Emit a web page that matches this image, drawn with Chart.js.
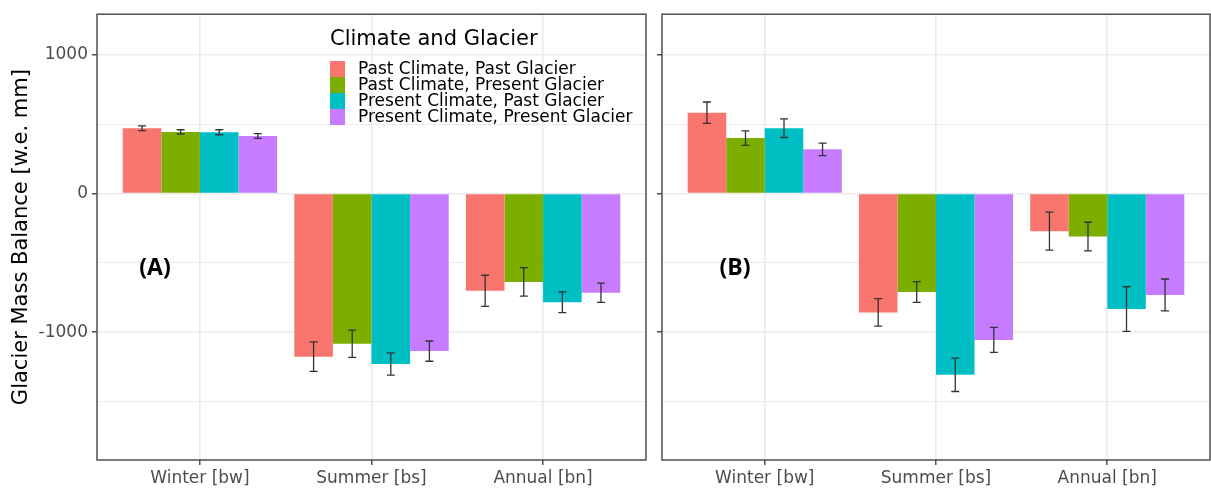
<!DOCTYPE html>
<html>
<head>
<meta charset="utf-8">
<script src="https://cdn.jsdelivr.net/npm/chart.js@4.4.0/dist/chart.umd.min.js"></script>
<style>
  body { margin: 0; background: #fff; }
  #wrap { position: relative; width: 1211px; height: 495px; }
  canvas { position: absolute; top: 0; }
  #chartA { left: 0; }
  #chartB { left: 655px; }
</style>
</head>
<body>
<div id="wrap">
  <canvas id="chartA" width="655" height="495"></canvas>
  <canvas id="chartB" width="556" height="495"></canvas>
</div>
<script>
// balance components along x
const categories = ["Winter [bw]", "Summer [bs]", "Annual [bn]"];
const seriesNames = [
  "Past Climate, Past Glacier",
  "Past Climate, Present Glacier",
  "Present Climate, Past Glacier",
  "Present Climate, Present Glacier",
];
const seriesColors = ["#F8766D", "#7CAE00", "#00BFC4", "#C77CFF"];

// panel (A) means [w.e. mm], order winter / summer / annual
const a_pastPast = [471, -1176, -701];
const a_pastPresent = [444, -1083, -637];
const a_presentPast = [442, -1229, -784];
const a_presentPresent = [415, -1136, -715];
// panel (A) error bar half lengths
const a_pastPast_err = [17, 106, 112];
const a_pastPresent_err = [16, 98, 103];
const a_presentPast_err = [18, 80, 75];
const a_presentPresent_err = [17, 73, 69];

// panel (B) means
const b_pastPast = [583, -857, -271];
const b_pastPresent = [400, -710, -310];
const b_presentPast = [471, -1307, -833];
const b_presentPresent = [319, -1055, -731];
// panel (B) error bar half lengths
const b_pastPast_err = [77, 99, 137];
const b_pastPresent_err = [52, 75, 103];
const b_presentPast_err = [67, 120, 161];
const b_presentPresent_err = [45, 90, 115];

// y axis
const yTicks = [-1500, -1000, -500, 0, 500, 1000];
const yLabelled = [-1000, 0, 1000];
const yMin = -1921;
const yMax = 1293;

const FONT = "'DejaVu Sans', sans-serif";

function makeDatasets(values, errs) {
  return seriesNames.map((name, i) => ({
    label: name,
    data: values[i].map((v, j) => ({ x: j + 1, y: v })),
    errors: errs[i],
    backgroundColor: seriesColors[i],
    borderWidth: 0,
    categoryPercentage: 0.9,
    barPercentage: 1.0,
  }));
}

// whiskers drawn on top of the bars
const errorBars = {
  id: "errorBars",
  afterDatasetsDraw(chart) {
    const ctx = chart.ctx;
    const y = chart.scales.y;
    ctx.save();
    ctx.strokeStyle = "#333";
    ctx.lineWidth = 1.3;
    chart.data.datasets.forEach((ds, i) => {
      const meta = chart.getDatasetMeta(i);
      meta.data.forEach((bar, j) => {
        const v = ds.data[j].y;
        const e = ds.errors[j];
        const top = y.getPixelForValue(v + e);
        const bot = y.getPixelForValue(v - e);
        const x = bar.x;
        ctx.beginPath();
        ctx.moveTo(x, top); ctx.lineTo(x, bot);
        ctx.moveTo(x - 4, top); ctx.lineTo(x + 4, top);
        ctx.moveTo(x - 4, bot); ctx.lineTo(x + 4, bot);
        ctx.stroke();
      });
    });
    ctx.restore();
  },
};

// panel border + (A)/(B) tag + legend
const panelExtras = {
  id: "panelExtras",
  afterDraw(chart, args, opts) {
    const ctx = chart.ctx;
    const a = chart.chartArea;
    ctx.save();
    ctx.strokeStyle = "#444";
    ctx.lineWidth = 1.4;
    ctx.strokeRect(a.left, a.top, a.right - a.left, a.bottom - a.top);

    ctx.fillStyle = "#000";
    ctx.font = "bold 23px 'Open Sans', sans-serif";
    ctx.textAlign = "center";
    ctx.textBaseline = "middle";
    ctx.fillText(opts.tag, chart.scales.x.getPixelForValue(opts.tagX), chart.scales.y.getPixelForValue(opts.tagY));

    if (opts.legend) {
      const lx = a.left + 233;
      ctx.textAlign = "left";
      ctx.font = "21px " + FONT;
      ctx.fillText("Climate and Glacier", lx, 40);
      ctx.font = "17px " + FONT;
      chart.data.datasets.forEach((ds, i) => {
        const ty = 61 + i * 16;
        ctx.fillStyle = ds.backgroundColor;
        ctx.fillRect(lx, ty, 15, 16);
        ctx.fillStyle = "#000";
        ctx.fillText(ds.label, lx + 28, ty + 8.5);
      });
    }
    ctx.restore();
  },
};

function makeOptions(opts) {
  return {
    responsive: false,
    animation: false,
    layout: { padding: { top: 10, right: opts.padRight, left: 0, bottom: 0 } },
    plugins: {
      legend: { display: false },
      tooltip: { enabled: false },
      panelExtras: { tag: opts.tag, tagX: opts.tagX, tagY: -543, legend: opts.legend },
    },
    scales: {
      x: {
        type: "linear",
        min: 0.4,
        max: 3.6,
        offset: false,
        afterBuildTicks: (s) => { s.ticks = categories.map((c, i) => ({ value: i + 1 })); },
        afterFit: (s) => { s.height = 35; },
        ticks: {
          callback: (v) => categories[v - 1] || "",
          font: { family: FONT, size: 17 },
          color: "#4D4D4D",
          padding: 3,
          autoSkip: false,
          maxRotation: 0,
        },
        grid: { offset: false, color: "#EBEBEB", lineWidth: 1.6, tickLength: 5, tickColor: "#333", tickWidth: 1.3 },
        border: { display: false },
      },
      y: {
        min: yMin,
        max: yMax,
        afterBuildTicks: (s) => { s.ticks = yTicks.map((v) => ({ value: v })); },
        afterFit: (s) => { s.width = opts.yWidth; },
        ticks: {
          callback: (v) => (opts.yLabels && yLabelled.includes(v) ? String(v) : ""),
          font: { family: FONT, size: 17 },
          color: "#4D4D4D",
          padding: 4,
        },
        grid: {
          color: "#EBEBEB",
          lineWidth: (c) => (yLabelled.includes(c.tick.value) ? 1.6 : 1.1),
          tickColor: (c) => (yLabelled.includes(c.tick.value) ? "#333" : "rgba(0,0,0,0)"),
          tickLength: 5,
          tickWidth: 1.3,
        },
        border: { display: false },
        title: {
          display: opts.yLabels,
          text: "Glacier Mass Balance [w.e. mm]",
          font: { family: FONT, size: 21 },
          color: "#000",
          padding: { top: 9, bottom: 0 },
        },
      },
    },
  };
}

new Chart(document.getElementById("chartA"), {
  type: "bar",
  data: {
    datasets: makeDatasets(
      [a_pastPast, a_pastPresent, a_presentPast, a_presentPresent],
      [a_pastPast_err, a_pastPresent_err, a_presentPast_err, a_presentPresent_err]
    ),
  },
  options: makeOptions({ yLabels: true, yWidth: 97, padRight: 9, tag: "(A)", tagX: 0.738, legend: true }),
  plugins: [errorBars, panelExtras],
});

new Chart(document.getElementById("chartB"), {
  type: "bar",
  data: {
    datasets: makeDatasets(
      [b_pastPast, b_pastPresent, b_presentPast, b_presentPresent],
      [b_pastPast_err, b_pastPresent_err, b_presentPast_err, b_presentPresent_err]
    ),
  },
  options: makeOptions({ yLabels: false, yWidth: 7, padRight: 1, tag: "(B)", tagX: 0.826, legend: false }),
  plugins: [errorBars, panelExtras],
});
</script>
</body>
</html>
